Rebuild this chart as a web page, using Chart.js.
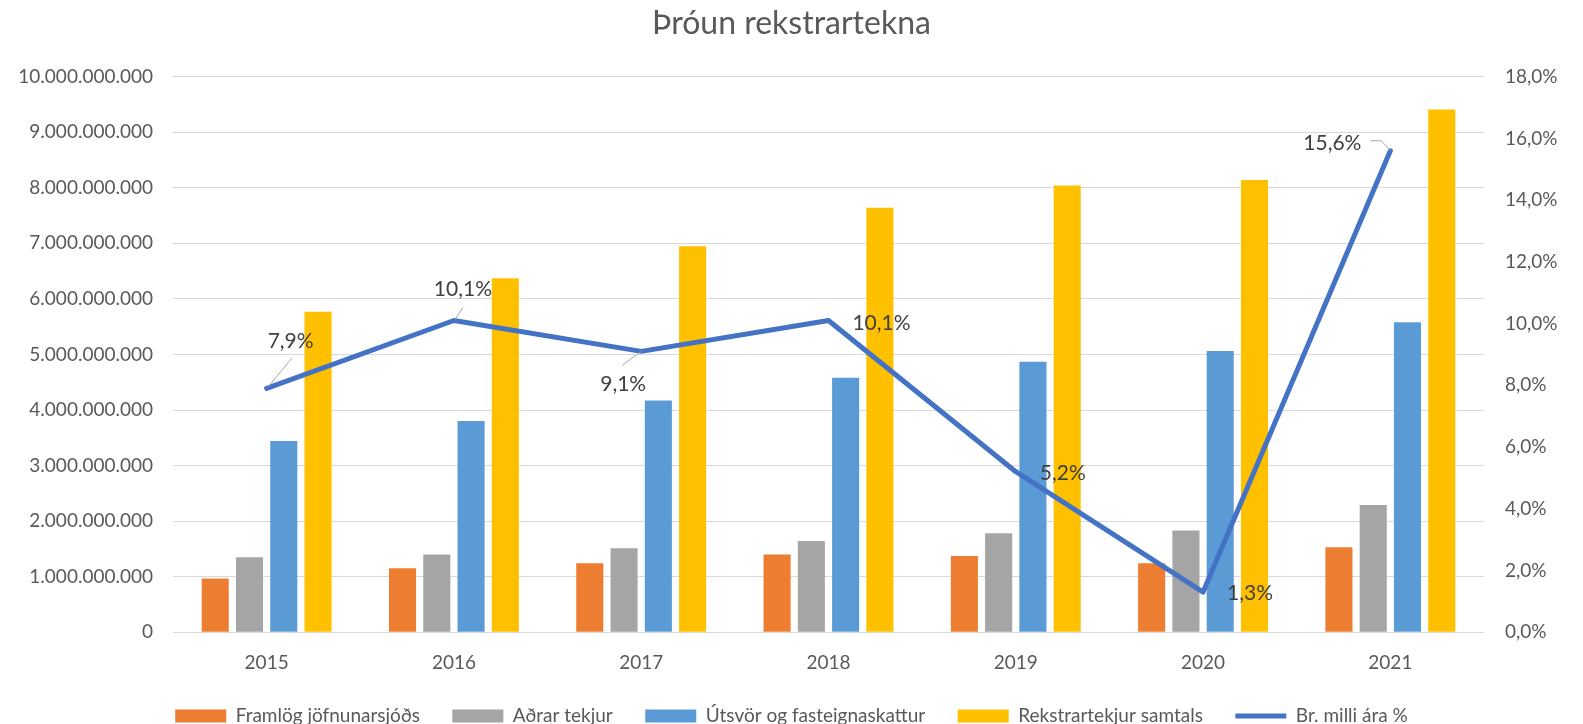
<!DOCTYPE html>
<html>
<head>
<meta charset="utf-8">
<title>Þróun rekstrartekna</title>
<script src="https://cdn.jsdelivr.net/npm/chart.js@4.4.1/dist/chart.umd.min.js"></script>
<style>
    html, body { margin: 0; padding: 0; background: #fff; overflow: hidden; }
    #wrap { width: 1583px; height: 724px; position: relative; }
</style>
</head>
<body>
<div id="wrap"><canvas id="chart"></canvas></div>
<script>
// ========== DATA ==========
const years = ['2015', '2016', '2017', '2018', '2019', '2020', '2021'];

const framlog = [965000000, 1150000000, 1240000000, 1400000000, 1370000000, 1240000000, 1530000000];
const adrarTekjur = [1350000000, 1400000000, 1510000000, 1640000000, 1780000000, 1830000000, 2290000000];
const utsvor = [3440000000, 3800000000, 4170000000, 4580000000, 4870000000, 5060000000, 5580000000];
const samtals = [5770000000, 6370000000, 6950000000, 7640000000, 8040000000, 8140000000, 9410000000];
const breyting = [7.9, 10.1, 9.1, 10.1, 5.2, 1.3, 15.6];

const leftTicks = { min: 0, max: 10000000000, step: 1000000000 };
const rightTicks = { min: 0, max: 18, step: 2 };

const FONT = 'Lato, "Liberation Sans", Arial, sans-serif';
const GREY_TEXT = '#595959';

function formatDots(value) {
    return String(Math.round(value)).replace(/\B(?=(\d{3})+(?!\d))/g, '.');
}

function formatPct(value) {
    return value.toFixed(1).replace('.', ',') + '%';
}

// where each label of the line sits, relative to its point (pixels), plus leader lines
const labelLayout = [
    { dx: 24, dy: -47, leader: [[25, -30], [1, -1]] },
    { dx: 9, dy: -31, leader: [[9, -13], [1, -1]] },
    { dx: -18, dy: 33, leader: [[-19, 14], [0, 0]] },
    { dx: 53, dy: 3 },
    { dx: 47, dy: 2 },
    { dx: 47, dy: 1 },
    { dx: -58, dy: -8, leader: [[-20, -10], [-9, -10], [0, 0]] }
];

const lineLabels = {
    id: 'lineLabels',
    afterDatasetsDraw(chart) {
        const meta = chart.getDatasetMeta(4);
        const ctx = chart.ctx;
        ctx.save();
        ctx.font = '21px ' + FONT;
        ctx.textAlign = 'center';
        ctx.textBaseline = 'middle';
        meta.data.forEach((pt, i) => {
            const lay = labelLayout[i];
            if (lay.leader) {
                ctx.strokeStyle = '#a6a6a6';
                ctx.lineWidth = 1;
                ctx.beginPath();
                lay.leader.forEach((p, j) => {
                    if (j === 0) ctx.moveTo(pt.x + p[0], pt.y + p[1]);
                    else ctx.lineTo(pt.x + p[0], pt.y + p[1]);
                });
                ctx.stroke();
            }
            ctx.fillStyle = '#404040';
            ctx.fillText(formatPct(breyting[i]), pt.x + lay.dx, pt.y + lay.dy);
        });
        ctx.restore();
    }
};

const ctx = document.getElementById('chart').getContext('2d');

new Chart(ctx, {
    type: 'bar',
    data: {
        labels: years,
        datasets: [
            { label: 'Framlög jöfnunarsjóðs', data: framlog, backgroundColor: '#ED7D31', yAxisID: 'y', pointStyle: 'rect' },
            { label: 'Aðrar tekjur', data: adrarTekjur, backgroundColor: '#A5A5A5', yAxisID: 'y', pointStyle: 'rect' },
            { label: 'Útsvör og fasteignaskattur', data: utsvor, backgroundColor: '#5B9BD5', yAxisID: 'y', pointStyle: 'rect' },
            { label: 'Rekstrartekjur samtals', data: samtals, backgroundColor: '#FFC000', yAxisID: 'y', pointStyle: 'rect' },
            {
                type: 'line',
                label: 'Br. milli ára %',
                data: breyting,
                yAxisID: 'y2',
                borderColor: '#4472C4',
                backgroundColor: '#4472C4',
                borderWidth: 5,
                borderCapStyle: 'round',
                borderJoinStyle: 'round',
                pointRadius: 0,
                pointHoverRadius: 0,
                pointStyle: 'line',
                tension: 0,
                order: -1
            }
        ]
    },
    options: {
        responsive: true,
        maintainAspectRatio: false,
        animation: false,
        categoryPercentage: 0.732,
        barPercentage: 0.79,
        layout: { padding: 0 },
        plugins: {
            title: {
                display: true,
                text: 'Þróun rekstrartekna',
                color: GREY_TEXT,
                font: { family: FONT, size: 32, weight: 'normal' },
                padding: { top: 4, bottom: 34.3 }
            },
            legend: {
                display: true,
                position: 'bottom',
                maxHeight: 50,
                labels: {
                    color: GREY_TEXT,
                    font: { family: FONT, size: 19 },
                    usePointStyle: true,
                    pointStyleWidth: 51,
                    boxHeight: 13,
                    padding: 32.5,
                    sort: (a, b) => a.datasetIndex - b.datasetIndex
                }
            },
            tooltip: { enabled: false }
        },
        scales: {
            x: {
                grid: { display: false, drawTicks: false },
                border: { display: false },
                ticks: { color: GREY_TEXT, font: { family: FONT, size: 19 }, padding: 19 },
                afterFit(scale) { scale.height = 41.8; }
            },
            y: {
                position: 'left',
                min: leftTicks.min,
                max: leftTicks.max,
                grid: { color: '#d9d9d9', lineWidth: 1, drawTicks: false },
                border: { display: false },
                ticks: {
                    stepSize: leftTicks.step,
                    color: GREY_TEXT,
                    font: { family: FONT, size: 19 },
                    padding: 20,
                    callback: v => formatDots(v)
                },
                afterFit(scale) { scale.width = 173; }
            },
            y2: {
                position: 'right',
                min: rightTicks.min,
                max: rightTicks.max,
                grid: { display: false, drawTicks: false },
                border: { display: false },
                ticks: {
                    stepSize: rightTicks.step,
                    color: GREY_TEXT,
                    font: { family: FONT, size: 19 },
                    padding: 21,
                    callback: v => formatPct(v)
                },
                afterFit(scale) { scale.width = 99; }
            }
        }
    },
    plugins: [lineLabels]
});
</script>
</body>
</html>
